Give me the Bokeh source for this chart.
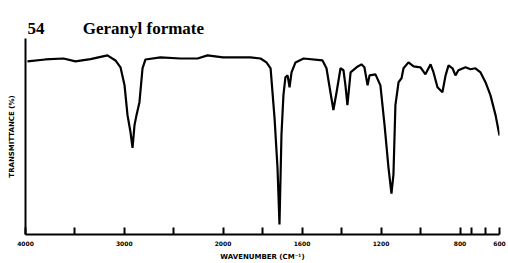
import numpy as np
from bokeh.plotting import figure
from bokeh.models import Range1d, FixedTicker
from bokeh.embed import file_html
from bokeh.resources import INLINE

# IR spectrum of geranyl formate (wavenumber cm^-1, transmittance %)
wavenumber = [3980, 3800, 3615, 3494, 3342, 3170, 3089, 3038, 2997, 2967, 2937, 2916,
              2896, 2876, 2846, 2815, 2785, 2633, 2430, 2258, 2157, 2000, 1861, 1810,
              1780, 1759, 1739, 1724, 1714, 1704, 1694, 1684, 1673, 1663, 1653, 1633,
              1592, 1496, 1476, 1456, 1441, 1425, 1405, 1390, 1380, 1370, 1354, 1324,
              1299, 1284, 1268, 1258, 1228, 1203, 1182, 1162, 1147, 1137, 1127, 1111,
              1096, 1086, 1061, 1035, 1000, 975, 949, 934, 914, 889, 873, 858, 838, 823,
              808, 772, 747, 722, 696, 671, 646, 620, 600]
transmittance = [88.3, 89.3, 89.8, 88.3, 89.5, 91.4, 88.8, 85.3, 76.1, 60.9, 52.3, 44.2,
                 55.8, 60.9, 67.5, 84.8, 89.3, 90.4, 89.8, 89.8, 91.4, 90.4, 90.4, 89.8,
                 87.8, 84.8, 59.4, 34.0, 5.1, 50.8, 71.1, 80.2, 81.2, 75.1, 82.7, 87.8,
                 89.8, 88.8, 84.8, 72.6, 63.5, 72.6, 84.8, 83.8, 76.1, 66.0, 82.7, 85.3,
                 86.8, 85.3, 76.1, 81.2, 81.7, 76.1, 55.8, 34.0, 20.8, 30.5, 66.0, 77.7,
                 79.7, 84.8, 87.8, 85.8, 85.3, 81.7, 86.8, 82.7, 75.1, 72.6, 81.2, 86.3,
                 84.8, 81.2, 83.8, 85.3, 84.3, 84.8, 82.7, 77.7, 71.1, 60.9, 50.5]

tick_values = [4000, 3500, 3000, 2500, 2000, 1800, 1600, 1400, 1200, 1000, 800, 740, 670, 600]
tick_labels = {4000: "4000", 3000: "3000", 2000: "2000", 1600: "1600",
               1200: "1200", 800: "800", 600: "600"}

title_number = "54"
title_text = "Geranyl formate"
x_title = "WAVENUMBER (CM\u207b\u00b9)"
y_title = "TRANSMITTANCE (%)"


def warp(wn):
    """Chart-paper scale: 4000-2000 compressed by half vs 2000-600."""
    wn = np.asarray(wn, dtype=float)
    return np.where(wn >= 2000, 4000 - wn, 2000 + 2 * (2000 - wn))


p = figure(width=508, height=263, output_backend="svg", toolbar_location=None,
           x_range=Range1d(float(warp(4000)), float(warp(600))), y_range=Range1d(0, 100),
           min_border_left=25, min_border_right=9, min_border_top=38, min_border_bottom=28)
p.outline_line_color = None
p.xgrid.visible = False
p.ygrid.visible = False
p.background_fill_color = "white"
p.border_fill_color = "white"

p.title.text = title_number + "\u00a0" * 9 + title_text
p.title.text_font = "Liberation Serif"
p.title.text_font_style = "bold"
p.title.text_font_size = "17px"
p.title.text_color = "black"
p.title.align = "left"
p.title.offset = 2
p.title.standoff = 2

p.line(warp(wavenumber), transmittance, line_color="black", line_width=2.2)

xt = [float(v) for v in warp(tick_values)]
p.xaxis.ticker = FixedTicker(ticks=xt)
p.xaxis.minor_tick_line_color = None
p.xaxis.major_label_overrides = {float(warp(k)): v for k, v in tick_labels.items()} | {
    t: "" for t, w in zip(xt, tick_values) if w not in tick_labels}
p.xaxis.major_tick_in = 7
p.xaxis.major_tick_out = 0
p.xaxis.major_tick_line_width = 2
p.xaxis.axis_line_width = 2
p.xaxis.major_label_standoff = 6
p.xaxis.major_label_text_font = "DejaVu Sans"
p.xaxis.major_label_text_font_style = "bold"
p.xaxis.major_label_text_font_size = "6px"
p.xaxis.major_label_text_color = "black"
p.xaxis.axis_label = x_title
p.xaxis.axis_label_text_font = "DejaVu Sans"
p.xaxis.axis_label_text_font_style = "bold"
p.xaxis.axis_label_text_font_size = "7px"
p.xaxis.axis_label_text_color = "black"
p.xaxis.axis_label_standoff = 4

p.yaxis.ticker = FixedTicker(ticks=[])
p.yaxis.minor_tick_line_color = None
p.yaxis.major_tick_line_color = None
p.yaxis.axis_line_width = 2
p.yaxis.axis_label = y_title
p.yaxis.axis_label_text_font = "DejaVu Sans"
p.yaxis.axis_label_text_font_style = "bold"
p.yaxis.axis_label_text_font_size = "7px"
p.yaxis.axis_label_text_color = "black"
p.yaxis.axis_label_standoff = 10

open("out.html", "w").write(file_html(p, INLINE))
